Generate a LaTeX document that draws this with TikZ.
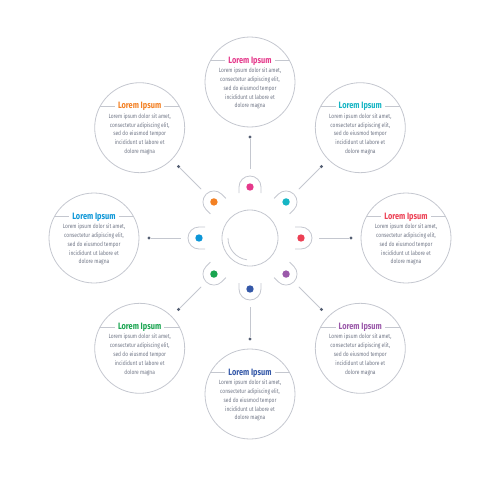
\documentclass[tikz,border=0pt]{standalone}
\usepackage{fontspec}
\setmainfont{Fira Sans}[FakeStretch=0.8]
\usetikzlibrary{positioning,calc}
\definecolor{PinkTone}{RGB}{229,57,139}
\definecolor{OrangeTone}{RGB}{243,128,35}
\definecolor{CyanTone}{RGB}{22,181,196}
\definecolor{RedTone}{RGB}{236,64,84}
\definecolor{PurpleTone}{RGB}{155,89,170}
\definecolor{BlueTone}{RGB}{52,88,168}
\definecolor{GreenTone}{RGB}{25,165,80}
\definecolor{SkyTone}{RGB}{12,150,215}
\definecolor{TextGray}{RGB}{112,118,134}
\definecolor{RingGray}{RGB}{196,199,207}
\definecolor{TipGray}{RGB}{85,95,115}
\newcommand{\loremtext}{Lorem ipsum dolor sit amet,\\consectetur adipiscing elit,\\sed do eiusmod tempor\\incididunt ut labore et\\dolore magna}

\begin{document}
\begin{tikzpicture}[x=1pt, y=1pt,
  card/.style={draw=RingGray, line width=0.8pt, circle, minimum size=90pt, inner sep=0pt, outer sep=0pt},
  ring/.style={draw=RingGray, line width=0.8pt},
  head/.style={fill=white, inner sep=3pt, font=\fontsize{9.2}{10}\selectfont\bfseries},
  body/.style={align=center, text=TextGray, inner sep=0pt, font=\fontsize{6.1}{8.8}\selectfont},
  pin/.style={circle, minimum size=7.4pt, inner sep=0pt},
  petal/.style={draw=RingGray, line width=0.8pt},
  tip/.style={circle, fill=TipGray, minimum size=3.4pt, inner sep=0pt},
  spoke/.style={draw=RingGray, line width=0.8pt}]
  \useasboundingbox (-250,-239) rectangle (250,238);

  % hub
  \node[draw=RingGray, line width=0.8pt, circle, minimum size=56pt, inner sep=0pt] (hub) at (0,0) {};
  \draw[ring] (hub.center) ++(180:22) arc[start angle=180, end angle=262, radius=22];

  % top
  \node[card] (cT) at (90:156) {};
  \draw[ring] (cT.152) -- (cT.28);
  \node[head, text=PinkTone] (hT) at ($(cT)+(0,21)$) {Lorem Ipsum};
  \node[body] (bT) at ($(cT)+(0,-6.5)$) {\loremtext};
  \node[pin, fill=PinkTone] (pT) at (90:51) {};
  \draw[petal, shift={(pT)}, rotate=0] (-11,-6) -- (-11,0) arc[start angle=180, end angle=0, radius=11] -- (11,-6);
  \coordinate (sT) at (90:69);
  \node[tip] (dT) at (90:101) {};
  \draw[spoke] (sT) -- (dT);

  % upper right
  \node[card] (cUR) at (45:156) {};
  \draw[ring] (cUR.152) -- (cUR.28);
  \node[head, text=CyanTone] (hUR) at ($(cUR)+(0,21)$) {Lorem Ipsum};
  \node[body] (bUR) at ($(cUR)+(0,-6.5)$) {\loremtext};
  \node[pin, fill=CyanTone] (pUR) at (45:51) {};
  \draw[petal, shift={(pUR)}, rotate=-45] (-11,-6) -- (-11,0) arc[start angle=180, end angle=0, radius=11] -- (11,-6);
  \coordinate (sUR) at (45:69);
  \node[tip] (dUR) at (45:101) {};
  \draw[spoke] (sUR) -- (dUR);

  % right
  \node[card] (cR) at (0:156) {};
  \draw[ring] (cR.152) -- (cR.28);
  \node[head, text=RedTone] (hR) at ($(cR)+(0,21)$) {Lorem Ipsum};
  \node[body] (bR) at ($(cR)+(0,-6.5)$) {\loremtext};
  \node[pin, fill=RedTone] (pR) at (0:51) {};
  \draw[petal, shift={(pR)}, rotate=-90] (-11,-6) -- (-11,0) arc[start angle=180, end angle=0, radius=11] -- (11,-6);
  \coordinate (sR) at (0:69);
  \node[tip] (dR) at (0:101) {};
  \draw[spoke] (sR) -- (dR);

  % lower right
  \node[card] (cLR) at (-45:156) {};
  \draw[ring] (cLR.152) -- (cLR.28);
  \node[head, text=PurpleTone] (hLR) at ($(cLR)+(0,21)$) {Lorem Ipsum};
  \node[body] (bLR) at ($(cLR)+(0,-6.5)$) {\loremtext};
  \node[pin, fill=PurpleTone] (pLR) at (-45:51) {};
  \draw[petal, shift={(pLR)}, rotate=-135] (-11,-6) -- (-11,0) arc[start angle=180, end angle=0, radius=11] -- (11,-6);
  \coordinate (sLR) at (-45:69);
  \node[tip] (dLR) at (-45:101) {};
  \draw[spoke] (sLR) -- (dLR);

  % bottom
  \node[card] (cB) at (-90:156) {};
  \draw[ring] (cB.152) -- (cB.28);
  \node[head, text=BlueTone] (hB) at ($(cB)+(0,21)$) {Lorem Ipsum};
  \node[body] (bB) at ($(cB)+(0,-6.5)$) {\loremtext};
  \node[pin, fill=BlueTone] (pB) at (-90:51) {};
  \draw[petal, shift={(pB)}, rotate=180] (-11,-6) -- (-11,0) arc[start angle=180, end angle=0, radius=11] -- (11,-6);
  \coordinate (sB) at (-90:69);
  \node[tip] (dB) at (-90:101) {};
  \draw[spoke] (sB) -- (dB);

  % lower left
  \node[card] (cLL) at (-135:156) {};
  \draw[ring] (cLL.152) -- (cLL.28);
  \node[head, text=GreenTone] (hLL) at ($(cLL)+(0,21)$) {Lorem Ipsum};
  \node[body] (bLL) at ($(cLL)+(0,-6.5)$) {\loremtext};
  \node[pin, fill=GreenTone] (pLL) at (-135:51) {};
  \draw[petal, shift={(pLL)}, rotate=135] (-11,-6) -- (-11,0) arc[start angle=180, end angle=0, radius=11] -- (11,-6);
  \coordinate (sLL) at (-135:69);
  \node[tip] (dLL) at (-135:101) {};
  \draw[spoke] (sLL) -- (dLL);

  % left
  \node[card] (cL) at (180:156) {};
  \draw[ring] (cL.152) -- (cL.28);
  \node[head, text=SkyTone] (hL) at ($(cL)+(0,21)$) {Lorem Ipsum};
  \node[body] (bL) at ($(cL)+(0,-6.5)$) {\loremtext};
  \node[pin, fill=SkyTone] (pL) at (180:51) {};
  \draw[petal, shift={(pL)}, rotate=90] (-11,-6) -- (-11,0) arc[start angle=180, end angle=0, radius=11] -- (11,-6);
  \coordinate (sL) at (180:69);
  \node[tip] (dL) at (180:101) {};
  \draw[spoke] (sL) -- (dL);

  % upper left
  \node[card] (cUL) at (135:156) {};
  \draw[ring] (cUL.152) -- (cUL.28);
  \node[head, text=OrangeTone] (hUL) at ($(cUL)+(0,21)$) {Lorem Ipsum};
  \node[body] (bUL) at ($(cUL)+(0,-6.5)$) {\loremtext};
  \node[pin, fill=OrangeTone] (pUL) at (135:51) {};
  \draw[petal, shift={(pUL)}, rotate=45] (-11,-6) -- (-11,0) arc[start angle=180, end angle=0, radius=11] -- (11,-6);
  \coordinate (sUL) at (135:69);
  \node[tip] (dUL) at (135:101) {};
  \draw[spoke] (sUL) -- (dUL);
\end{tikzpicture}
\end{document}
